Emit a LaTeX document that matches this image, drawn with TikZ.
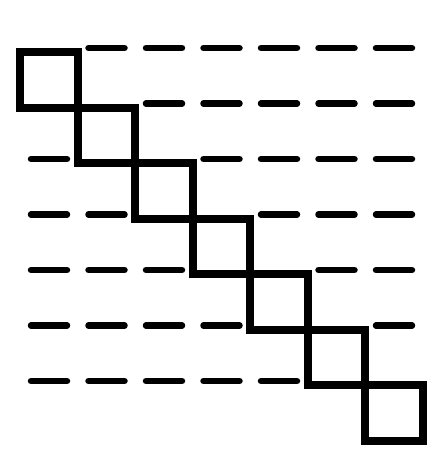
\documentclass[tikz,border=0pt]{standalone}
\usepackage{tikz}
\tikzset{
  cell/.style={line width=8pt, line join=miter},
  gap/.style={line width=6.5pt, line cap=round}
}
\begin{document}
\begin{tikzpicture}[x=1pt, y=-1pt]
    \useasboundingbox (0,0) rectangle (437,451);

    % Diagonal squares
    \foreach \k in {0,...,6}{
        \draw[cell] ({20+57.5*\k},{52+55.5*\k}) rectangle ({20+57.5*(\k+1)},{52+55.5*(\k+1)});
    }

    % Dashes, one per free cell edge
    \foreach \k in {0,...,6}{
        \foreach \j in {0,...,6}{
            \pgfmathtruncatemacro\d{\j-\k}
            \ifnum\d=0\relax\else\ifnum\d=-1\relax\else
                \draw[gap] ({20+57.5*\j+11},{52+55.5*\k-4}) -- ({20+57.5*\j+47},{52+55.5*\k-4});
            \fi\fi
        }
    }
\end{tikzpicture}
\end{document}
